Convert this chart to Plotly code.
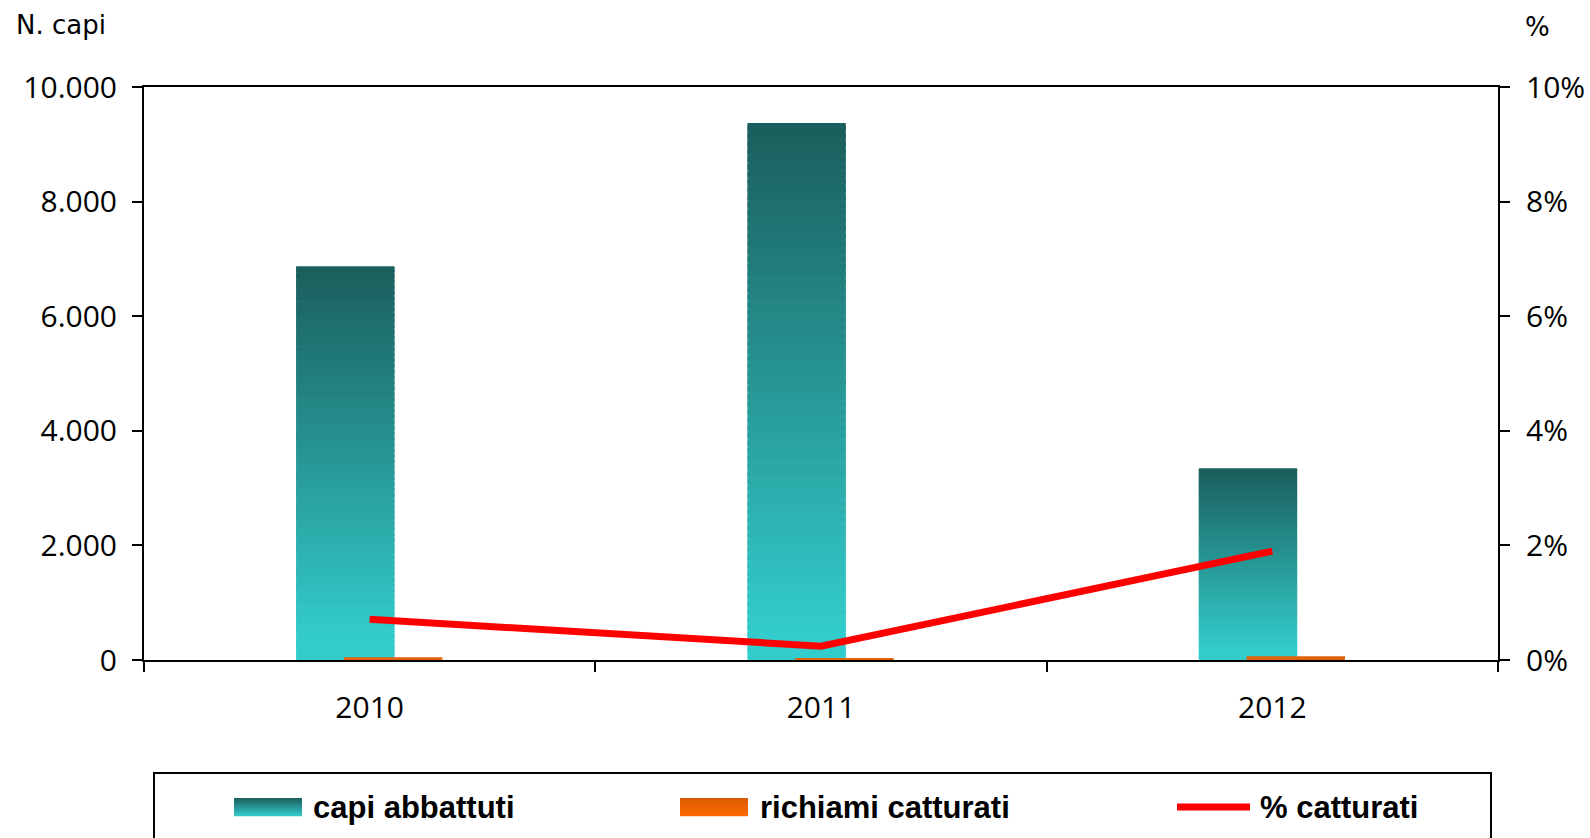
import plotly.graph_objects as go

# ---- data ----
years = ["2010", "2011", "2012"]
capi_abbattuti = [6870, 9370, 3345]
richiami_catturati = [49, 20, 64]
pct_catturati = [0.0071, 0.0024, 0.0190]
left_ticks = [0, 2000, 4000, 6000, 8000, 10000]
right_ticks = [0, 0.02, 0.04, 0.06, 0.08, 0.10]

W, H = 1590, 838
ML, MR, MT, MB = 144, 92, 87, 178
PW, PH = W - ML - MR, H - MT - MB

def px_x(px):
    return (px - ML) / PW

def px_y(py):
    return (H - MB - py) / PH

DARK = (26, 94, 92)
CYAN = (51, 204, 204)
ORANGE_TOP = (217, 91, 0)
ORANGE_BOT = (255, 106, 0)

def mix(c_bottom, c_top, t):
    return "rgb(%d,%d,%d)" % tuple(round(a + (b - a) * t) for a, b in zip(c_bottom, c_top))

def grad_t(t):
    return min(1.0, max(0.0, (t - 0.05) / 0.95))

fig = go.Figure()

# gradient bars built from stacked slices of each value
N = 70
BAR_W = 0.218
for k in range(N):
    t = (k + 0.5) / N
    last = k == N - 1
    fig.add_trace(go.Bar(
        x=years,
        y=[v / N * (1.0 if last else 1.6) for v in capi_abbattuti],
        base=[v * k / N for v in capi_abbattuti],
        width=BAR_W, offset=-0.163,
        marker=dict(color=mix(CYAN, DARK, grad_t(t)), line=dict(width=0)),
        showlegend=False, hoverinfo="skip", yaxis="y",
    ))

fig.add_trace(go.Bar(
    x=years, y=richiami_catturati, width=BAR_W, offset=-0.057,
    marker=dict(color="rgb(224,98,10)", line=dict(width=0)),
    name="richiami catturati", showlegend=False, yaxis="y",
))

fig.add_trace(go.Scatter(
    x=years, y=pct_catturati, mode="lines",
    line=dict(color="#ff0000", width=7),
    name="% catturati", showlegend=False, yaxis="y2",
))

tick_font = dict(family="Open Sans, Noto Sans, sans-serif", size=30, color="black")

fig.update_layout(
    width=W, height=H,
    margin=dict(l=ML, r=MR, t=MT, b=MB, autoexpand=False),
    paper_bgcolor="white", plot_bgcolor="white",
    barmode="overlay",
    separators=",.",
    showlegend=False,
    xaxis=dict(
        type="category", tickson="boundaries", automargin=False,
        showline=True, linecolor="black", linewidth=2, mirror=True,
        ticks="outside", ticklen=10, tickwidth=2, tickcolor="black",
        tickfont=tick_font, ticklabelstandoff=20,
        showgrid=False, zeroline=False,
    ),
    yaxis=dict(
        range=[0, 10000], tickvals=left_ticks, tickformat=",d", automargin=False,
        showline=True, linecolor="black", linewidth=2,
        ticks="outside", ticklen=10, tickwidth=2, tickcolor="black",
        tickfont=tick_font, ticklabelstandoff=9,
        showgrid=False, zeroline=False,
    ),
    yaxis2=dict(
        range=[0, 0.10], tickvals=right_ticks, tickformat=".0%", automargin=False,
        overlaying="y", side="right",
        showline=True, linecolor="black", linewidth=2,
        ticks="outside", ticklen=10, tickwidth=2, tickcolor="black",
        tickfont=tick_font, ticklabelstandoff=10,
        showgrid=False, zeroline=False,
    ),
)

title_font = dict(family="DejaVu Sans, Verdana, sans-serif", size=26, color="black")
annotations = [
    dict(text="N. capi", x=px_x(14), y=px_y(25), xanchor="left", yanchor="middle",
         font=title_font),
    dict(text="%", x=px_x(1523), y=px_y(27), xanchor="left", yanchor="middle",
         font=title_font),
]

legend_font = dict(family="Liberation Sans, Arial, sans-serif", size=31, color="black", weight="bold")
LY = 807
legend_items = [("capi abbattuti", 311), ("richiami catturati", 758), ("% catturati", 1258)]
for label, lx in legend_items:
    annotations.append(dict(text=label, x=px_x(lx), y=px_y(LY), xanchor="left",
                            yanchor="middle", showarrow=False, font=legend_font))
for a in annotations:
    a["xref"] = "paper"
    a["yref"] = "paper"
    a["showarrow"] = False

shapes = [
    dict(type="rect", xref="paper", yref="paper",
         x0=px_x(154), x1=px_x(1491), y0=px_y(850), y1=px_y(773),
         line=dict(color="black", width=2), fillcolor="rgba(0,0,0,0)"),
]

def grad_swatch(x0, x1, y0, y1, c_bot, c_top, steps=9):
    h = (y1 - y0) / steps
    out = []
    for i in range(steps):
        t = (i + 0.5) / steps  # i=0 at top
        out.append(dict(type="rect", xref="paper", yref="paper",
                        x0=px_x(x0), x1=px_x(x1),
                        y0=px_y(y0 + h * (i + 1) + 0.3), y1=px_y(y0 + h * i),
                        line=dict(width=0), fillcolor=mix(c_top, c_bot, t), layer="above"))
    return out

shapes += grad_swatch(234, 302, 798, 816, CYAN, DARK)
shapes += grad_swatch(680, 748, 798, 816, ORANGE_BOT, ORANGE_TOP)
shapes.append(dict(type="line", xref="paper", yref="paper",
                   x0=px_x(1177), x1=px_x(1250), y0=px_y(LY), y1=px_y(LY),
                   line=dict(color="#ff0000", width=7)))

fig.update_layout(annotations=annotations, shapes=shapes)

fig.write_html("out.html",
               config={"displayModeBar": False},
               post_script="document.body.style.margin='0';document.body.style.overflow='hidden';")
